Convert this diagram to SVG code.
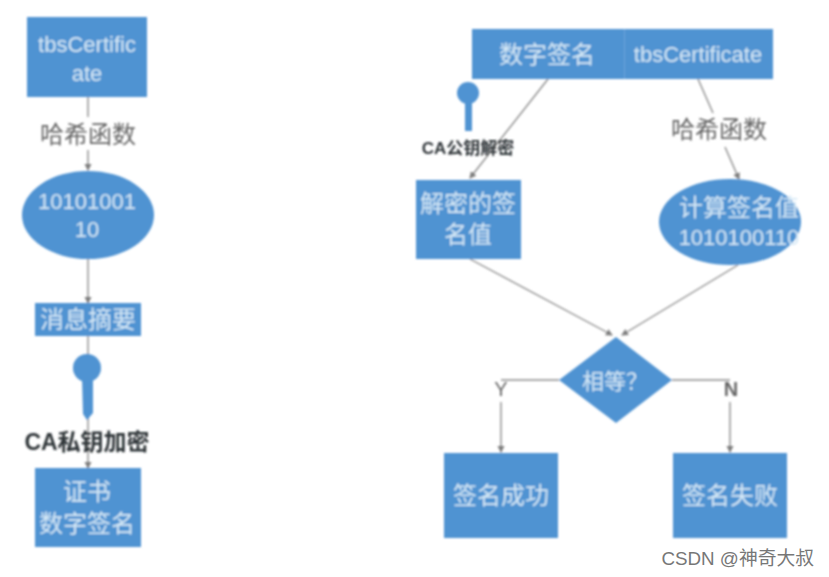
<svg xmlns="http://www.w3.org/2000/svg" width="829" height="577" viewBox="0 0 829 577">
<style>
.b{fill:#4f93d2}
.w{fill:#d4e8f6;font-family:"Noto Sans CJK SC","Liberation Sans",sans-serif;font-size:24px;text-anchor:middle}
.l{font-family:"Liberation Sans","Noto Sans CJK SC",sans-serif;font-size:22px;text-anchor:middle;fill:#d4e8f6}
.g{fill:#666;font-family:"Noto Sans CJK SC",sans-serif;font-size:24px;text-anchor:middle}
.t{fill:#666;font-family:"Liberation Sans",sans-serif;font-size:20px;text-anchor:middle}
.k{fill:#2f3438;font-family:"Liberation Sans","Noto Sans CJK SC",sans-serif;font-weight:bold;text-anchor:middle}
.c{fill:none;stroke:#8c8c8c;stroke-width:1.4}
</style>
<defs>
<marker id="a" markerWidth="8" markerHeight="8" refX="6" refY="3.5" orient="auto" markerUnits="userSpaceOnUse"><path d="M0 0L7 3.5L0 7z" fill="#7d7d7d"/></marker>
<filter id="s" x="-5%" y="-5%" width="110%" height="110%"><feGaussianBlur stdDeviation="0.9"/></filter>
</defs>
<rect width="829" height="577" fill="#fff"/>
<g filter="url(#s)">
<g id="connectors">
<path class="c" d="M88 97V117M88 150V170" marker-end="url(#a)"/>
<path class="c" d="M88 259V303" marker-end="url(#a)"/>
<path class="c" d="M88 336V468" marker-end="url(#a)"/>
<path class="c" d="M548 79L470 178" marker-end="url(#a)"/>
<path class="c" d="M698 79L713 113M725 147L739 179" marker-end="url(#a)"/>
<path class="c" d="M470 259L612 335" marker-end="url(#a)"/>
<path class="c" d="M738 265L622 335" marker-end="url(#a)"/>
<path class="c" d="M559 380H501M501 402V452" marker-end="url(#a)"/>
<path class="c" d="M672 380H730M730 402V452" marker-end="url(#a)"/>
</g>
<g id="tbs"><rect class="b" x="27" y="17" width="120" height="80"/><text class="l" x="87" y="52">tbsCertific</text><text class="l" x="87" y="81">ate</text></g>
<g id="hash-label-left"><text class="g" x="88" y="143">哈希函数</text></g>
<g id="binary"><ellipse class="b" cx="88" cy="215" rx="66" ry="44"/><text class="l" x="87" y="209">10101001</text><text class="l" x="87" y="237">10</text></g>
<g id="digest"><rect class="b" x="35" y="303" width="106" height="33"/><text class="w" x="88" y="328">消息摘要</text></g>
<g id="private-key"><circle class="b" cx="87" cy="368" r="14"/><path class="b" d="M82 378H93V413L87 420L83 414z"/><text class="k" x="87" y="450" font-size="23">CA私钥加密</text></g>
<g id="cert"><rect class="b" x="35" y="468" width="106" height="79"/><text class="w" x="87" y="500">证书</text><text class="w" x="87" y="532">数字签名</text></g>
<g id="signed-cert"><rect class="b" x="472" y="29" width="301" height="50"/><path d="M624.500 29V79" stroke="#6aa5db"/><text class="w" x="547" y="63">数字签名</text><text class="l" x="698" y="62">tbsCertificate</text></g>
<g id="public-key"><circle class="b" cx="468" cy="93" r="11"/><rect class="b" x="465" y="100" width="7" height="31"/><text class="k" x="468" y="154" font-size="17">CA公钥解密</text></g>
<g id="hash-label-right"><text class="g" x="719" y="138">哈希函数</text></g>
<g id="decrypted"><rect class="b" x="416" y="180" width="105" height="79"/><text class="w" x="468" y="212">解密的签</text><text class="w" x="468" y="243">名值</text></g>
<g id="computed"><ellipse class="b" cx="730" cy="222" rx="71" ry="43"/><text class="w" x="739" y="216">计算签名值</text><text class="l" x="739" y="245">1010100110</text></g>
<g id="decision"><path class="b" d="M616 337L672 380L616 423L559 380z"/><text class="w" x="615" y="389" style="font-size:22px">相等？</text></g>
<g id="label-y"><text class="t" x="501" y="396">Y</text></g>
<g id="label-n"><text class="t" x="731" y="396" font-weight="bold">N</text></g>
<g id="success"><rect class="b" x="444" y="453" width="114" height="85"/><text class="w" x="501" y="504">签名成功</text></g>
<g id="fail"><rect class="b" x="673" y="453" width="114" height="85"/><text class="w" x="730" y="504">签名失败</text></g>
</g>
<g id="watermark"><text x="814" y="565" text-anchor="end" style="font-family:'Liberation Sans','Noto Sans CJK SC',sans-serif;font-size:18.800px" fill="#777">CSDN @神奇大叔</text></g>
</svg>
